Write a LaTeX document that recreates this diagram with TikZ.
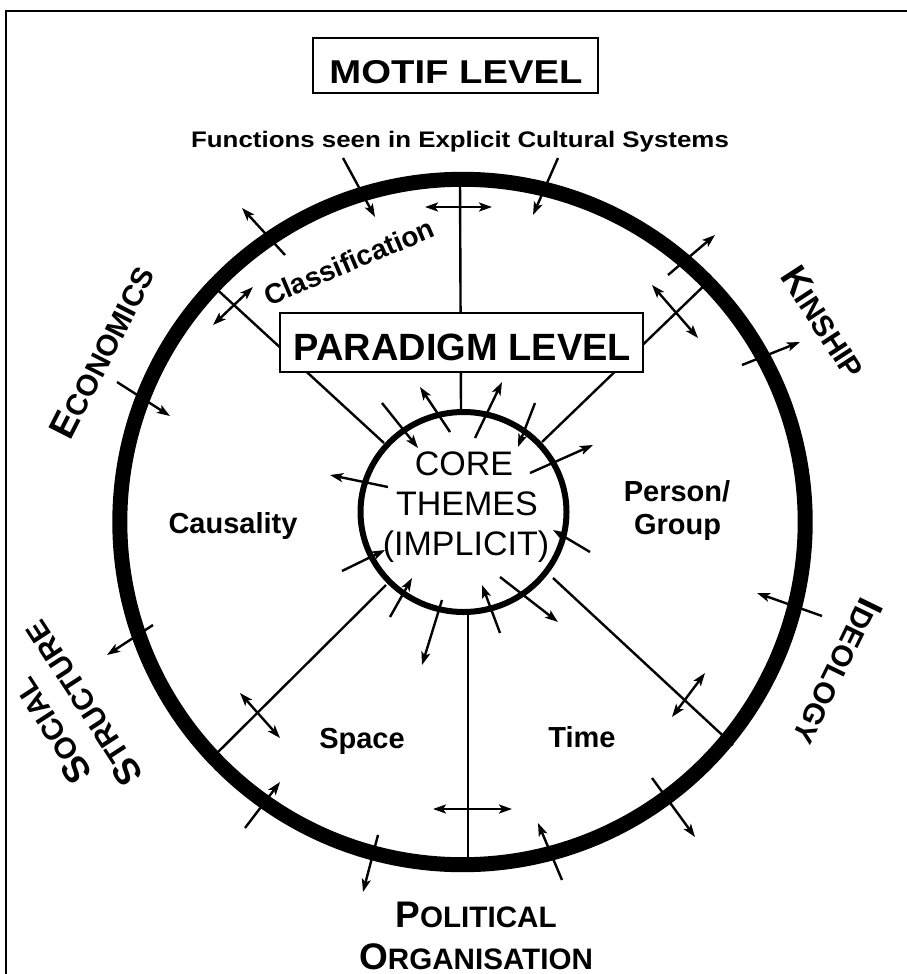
\documentclass[tikz,border=0pt]{standalone}
\usepackage{fontspec}
\setmainfont{Liberation Sans}
\usepackage{graphicx}
\usetikzlibrary{arrows.meta,shapes.geometric}
\newcommand\capsc[2]{{\fontsize{37}{44}\selectfont #1}{\fontsize{29.6}{44}\selectfont #2}}
\begin{document}
\begin{tikzpicture}[x=1pt, y=-1pt,
  ringline/.style={draw, circle, line width=15pt, inner sep=0pt},
  coreline/.style={draw, ellipse, line width=6pt, inner sep=0pt},
  spoke/.style={line width=2.4pt},
  arr/.style={line width=2.4pt, -{Stealth[length=13pt,width=9pt,inset=3pt]}},
  darr/.style={line width=2.4pt, {Stealth[length=13pt,width=9pt,inset=3pt]}-{Stealth[length=13pt,width=9pt,inset=3pt]}},
  levelbox/.style={draw, line width=2.6pt, fill=white, inner sep=0pt},
  lab/.style={font=\bfseries\fontsize{29}{34}\selectfont, inner sep=0pt},
  corelab/.style={font=\fontsize{34}{40}\selectfont, inner sep=0pt, anchor=base},
  outlab/.style={font=\bfseries, inner sep=0pt}
]
\useasboundingbox (0,0) rectangle (907,974);
\fill[white] (0,0) rectangle (907,974);
% frame
\draw[line width=2.4pt] (6,990) -- (6,11) -- (920,11);

% spokes
\coordinate (topO) at (460,180);   \coordinate (topI) at (461,412);
\coordinate (botI) at (468,612);   \coordinate (botO) at (468,866);
\coordinate (ulO) at (210,283);    \coordinate (ulI) at (384,443);
\coordinate (urO) at (712,278);    \coordinate (urI) at (542,442);
\coordinate (llO) at (215,755);    \coordinate (llI) at (386,585);
\coordinate (lrO) at (733,745);    \coordinate (lrI) at (553,578);
\draw[spoke] (topO) -- (topI);
\draw[spoke] (botI) -- (botO);
\draw[spoke] (ulO) -- (ulI);
\draw[spoke] (urO) -- (urI);
\draw[spoke] (llO) -- (llI);
\draw[spoke] (lrO) -- (lrI);

% rings
\node[ringline, minimum size=685.4pt] (outer) at (462.5,522) {};
\node[coreline, minimum width=206pt, minimum height=200pt] (core) at (463.5,512) {};

% level boxes
\node[levelbox, minimum width=285pt, minimum height=55pt] (motifbox) at (455.5,65.5) {};
\node[levelbox, minimum width=363pt, minimum height=59pt] (parabox) at (461.5,342.5) {};
\node[inner sep=0pt, anchor=base, font=\bfseries\fontsize{33}{40}\selectfont] (motif) at (456,84) {\scalebox{1.16}[1]{MOTIF LEVEL}};
\node[inner sep=0pt, anchor=base, font=\bfseries\fontsize{38}{44}\selectfont] (para) at (462.5,360) {PARADIGM LEVEL};
\node[inner sep=0pt, anchor=base, font=\bfseries\fontsize{22.5}{28}\selectfont] (func) at (460,147) {\scalebox{1.15}[1]{Functions seen in Explicit Cultural Systems}};

% outer arrows
\foreach \n/\ax/\ay/\bx/\by in {o1/343/158/375/217, o2/558/158/533/215, o4/285/255/242/208,
  o6/117/382/170/416, o7/153/625/107/655, o9/245/828/280/782, o10/378/835/363/892,
  o12/562/880/538/823, o13/652/778/695/837, o15/822/616/757/593, o16/742/365/800/342,
  o17/668/275/715/235}{
  \coordinate (t\n) at (\ax,\ay); \coordinate (h\n) at (\bx,\by);
  \draw[arr] (t\n) -- (h\n);
}
\foreach \n/\ax/\ay/\bx/\by in {o3/425/207/492/207, o5/213/325/253/287, o8/240/693/280/738,
  o11/433/809/512/809, o14/672/717/705/673, o18/652/285/698/338}{
  \coordinate (t\n) at (\ax,\ay); \coordinate (h\n) at (\bx,\by);
  \draw[darr] (t\n) -- (h\n);
}
% inner arrows
\foreach \n/\ax/\ay/\bx/\by in {ia/382/403/418/448, ib/450/432/420/387, ic/475/438/502/382,
  id/535/403/518/447, ie/530/473/593/445, if/590/552/553/530, ig/500/577/558/622,
  ih/500/633/482/585, ii/442/600/422/665, ij/390/617/412/578, ik/342/571/385/550,
  il/388/487/330/475}{
  \coordinate (t\n) at (\ax,\ay); \coordinate (h\n) at (\bx,\by);
  \draw[arr] (t\n) -- (h\n);
}

% core text
\node[corelab] (coreA) at (464,475) {CORE};
\node[corelab] (coreB) at (467,515) {THEMES};
\node[corelab] (coreC) at (466,555) {(IMPLICIT)};

% sector labels
\node[lab, font=\bfseries\fontsize{28}{34}\selectfont, rotate=23] (classif) at (349,262) {Classification};
\node[lab, anchor=base] (caus) at (233,533) {Causality};
\node[lab, anchor=base] (pers) at (677,501) {Person/};
\node[lab, anchor=base] (grp) at (677.5,534) {Group};
\node[lab, anchor=base] (space) at (362,748) {Space};
\node[lab, anchor=base] (time) at (582,747) {Time};

% outer labels
\node[outlab, rotate=63] (econ) at (102,352) {\capsc{E}{CONOMICS}};
\node[outlab, rotate=-57] (kin) at (824,322) {\capsc{K}{INSHIP}};
\node[outlab, rotate=-116] (ideo) at (838,672) {\capsc{I}{DEOLOGY}};
\node[outlab, rotate=123] (socA) at (51.5,731) {\capsc{S}{OCIAL}};
\node[outlab, rotate=123] (socB) at (82.5,703.5) {\capsc{S}{TRUCTURE}};
\node[outlab, anchor=base] (polA) at (476,927) {\capsc{P}{OLITICAL}};
\node[outlab, anchor=base] (polB) at (476,969) {\capsc{O}{RGANISATION}};
\end{tikzpicture}
\end{document}
